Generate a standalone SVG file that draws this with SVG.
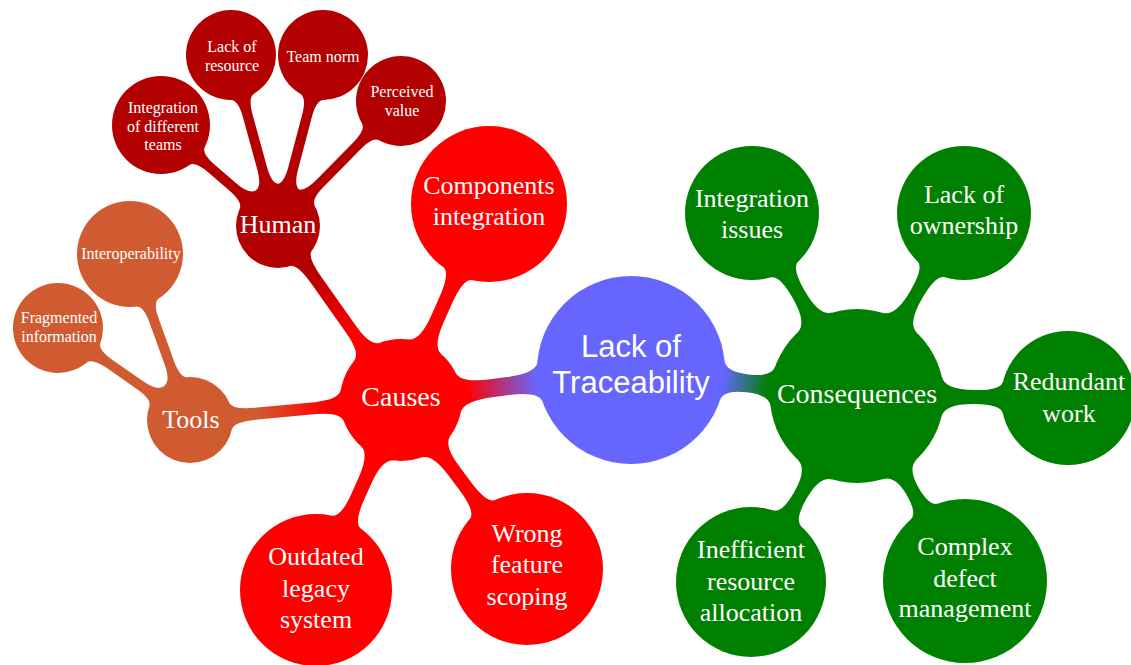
<svg xmlns="http://www.w3.org/2000/svg" width="1131" height="665" viewBox="0 0 1131 665">
<style>
.t{font-family:"Liberation Serif","Times New Roman",serif;fill:#fff;text-anchor:middle}
.s{font-family:"Liberation Sans",Arial,sans-serif;fill:#fff;text-anchor:middle;font-size:31px}
.l1{font-size:28px}
.l2{font-size:26px}
.l3{font-size:16px}
.red{fill:#FF0000}
.dred{fill:#B30000}
.org{fill:#D15B31}
.grn{fill:#008000}
.blu{fill:#6666FF}
</style>
<defs>
<linearGradient id="gC" gradientUnits="userSpaceOnUse" x1="95" y1="0" x2="165" y2="0"><stop offset="0" stop-color="#6666FF"/><stop offset="1" stop-color="#FF0000"/></linearGradient>
<linearGradient id="gQ" gradientUnits="userSpaceOnUse" x1="92" y1="0" x2="138" y2="0"><stop offset="0" stop-color="#6666FF"/><stop offset="1" stop-color="#008000"/></linearGradient>
<linearGradient id="gH" gradientUnits="userSpaceOnUse" x1="80" y1="0" x2="160" y2="0"><stop offset="0" stop-color="#FF0000"/><stop offset="1" stop-color="#B30000"/></linearGradient>
<linearGradient id="gT" gradientUnits="userSpaceOnUse" x1="75" y1="0" x2="145" y2="0"><stop offset="0" stop-color="#FF0000"/><stop offset="1" stop-color="#D15B31"/></linearGradient>
</defs>
<rect width="1131" height="665" fill="#fff"/>
<g id="connectors">
<path fill="url(#gC)" transform="translate(631,370) rotate(172.57)" d="M91.85,-20Q94.25,-9 124,-9L140.95,-9Q170.5,-9 174.32,-20L174.32,20Q170.5,9 140.95,9L124,9Q94.25,9 91.85,20Z"/>
<path fill="url(#gQ)" transform="translate(631,370) rotate(6.56)" d="M91.85,-20Q94.25,-9 117,-9L117.49,-9Q140.22,-9 142.82,-20L142.82,20Q140.22,9 117.49,9L117,9Q94.25,9 91.85,20Z"/>
<path fill="url(#gH)" transform="translate(401,400) rotate(-125.26)" d="M58.87,-16Q61.59,-6 86,-6L146.08,-6Q170.86,-6 173.14,-13L173.14,13Q170.86,6 146.08,6L86,6Q61.59,6 58.87,16Z"/>
<path class="red" transform="translate(401,400) rotate(-65.82)" d="M58.28,-18Q61.68,-7 89,-7L108.85,-7Q136.62,-7 138.51,-16L138.51,16Q136.62,7 108.85,7L89,7Q61.68,7 58.28,18Z"/>
<path class="red" transform="translate(401,400) rotate(53.29)" d="M58.28,-18Q61.68,-7 88,-7L107.8,-7Q134.56,-7 136.5,-16L136.5,16Q134.56,7 107.8,7L88,7Q61.68,7 58.28,18Z"/>
<path class="red" transform="translate(401,400) rotate(114.10)" d="M58.28,-18Q61.68,-7 88,-7L105.15,-7Q131.91,-7 133.85,-16L133.85,16Q131.91,7 105.15,7L88,7Q61.68,7 58.28,18Z"/>
<path fill="url(#gT)" transform="translate(401,400) rotate(174.59)" d="M58.87,-16Q61.59,-6 86,-6L143.95,-6Q168.74,-6 170.96,-13L170.96,13Q168.74,6 143.95,6L86,6Q61.59,6 58.87,16Z"/>
<path class="dred" transform="translate(278,226) rotate(-139.20)" d="M40.25,-12Q42.34,-5 60,-5L87.56,-5Q105.28,-5 107.05,-12L107.05,12Q105.28,5 87.56,5L60,5Q42.34,5 40.25,12Z"/>
<path class="dred" transform="translate(278,226) rotate(-105.37)" d="M40.25,-12Q42.34,-5 60,-5L114.34,-5Q132.03,-5 133.97,-12L133.97,12Q132.03,5 114.34,5L60,5Q42.34,5 40.25,12Z"/>
<path class="dred" transform="translate(278,226) rotate(-75.26)" d="M40.25,-12Q42.34,-5 60,-5L113.82,-5Q131.51,-5 133.45,-12L133.45,12Q131.51,5 113.82,5L60,5Q42.34,5 40.25,12Z"/>
<path class="dred" transform="translate(278,226) rotate(-45.46)" d="M40.25,-12Q42.34,-5 60,-5L112.37,-5Q130.06,-5 132,-12L132,12Q130.06,5 112.37,5L60,5Q42.34,5 40.25,12Z"/>
<path class="org" transform="translate(190,420) rotate(-109.87)" d="M41.29,-12Q43.32,-5 61,-5L105.51,-5Q123.26,-5 124.89,-12L124.89,12Q123.26,5 105.51,5L61,5Q43.32,5 41.29,12Z"/>
<path class="org" transform="translate(190,420) rotate(-145.12)" d="M41.29,-12Q43.32,-5 61,-5L97.9,-5Q115.59,-5 117.53,-12L117.53,12Q115.59,5 97.9,5L61,5Q43.32,5 41.29,12Z"/>
<path class="grn" transform="translate(857,396) rotate(-119.85)" d="M84.67,-20Q87.74,-7 117,-7L117.98,-7Q143.71,-7 145.92,-16L145.92,16Q143.71,7 117.98,7L117,7Q87.74,7 84.67,20Z"/>
<path class="grn" transform="translate(857,396) rotate(-59.69)" d="M84.67,-20Q87.74,-7 117,-7L118.99,-7Q144.72,-7 146.93,-16L146.93,16Q144.72,7 118.99,7L117,7Q87.74,7 84.67,20Z"/>
<path class="grn" transform="translate(857,396) rotate(0.54)" d="M84.67,-20Q87.74,-7 117,-7L118.01,-7Q143.74,-7 145.95,-16L145.95,16Q143.74,7 118.01,7L117,7Q87.74,7 84.67,20Z"/>
<path class="grn" transform="translate(857,396) rotate(119.68)" d="M84.67,-20Q87.74,-7 114,-7L114.08,-7Q138.84,-7 140.8,-16L140.8,16Q138.84,7 114.08,7L114,7Q87.74,7 84.67,20Z"/>
<path class="grn" transform="translate(857,396) rotate(59.73)" d="M84.67,-20Q87.74,-7 110,-7L110.22,-7Q132,-7 133.79,-16L133.79,16Q132,7 110.22,7L110,7Q87.74,7 84.67,20Z"/>
</g>
<g id="center"><circle class="blu" cx="631" cy="370" r="94"/><text class="s" x="631" y="357">Lack of</text><text class="s" x="631" y="393">Traceability</text></g>
<g id="causes"><circle class="red" cx="401" cy="400" r="61"/><text class="t l1" x="401" y="406">Causes</text></g>
<g id="consequences"><circle class="grn" cx="857" cy="396" r="87"/><text class="t l1" x="857" y="403">Consequences</text></g>
<g id="human"><circle class="dred" cx="278" cy="226" r="42"/><text class="t l2" x="278" y="233">Human</text></g>
<g id="tools"><circle class="org" cx="190" cy="420" r="43"/><text class="t l2" x="191" y="428">Tools</text></g>
<g id="components"><circle class="red" cx="489" cy="204" r="78"/><text class="t l2" x="489" y="194">Components</text><text class="t l2" x="489" y="225">integration</text></g>
<g id="wrong"><circle class="red" cx="527" cy="569" r="76"/><text class="t l2" x="527" y="542">Wrong</text><text class="t l2" x="527" y="573">feature</text><text class="t l2" x="527" y="605">scoping</text></g>
<g id="outdated"><circle class="red" cx="316" cy="590" r="76"/><text class="t l2" x="316" y="565">Outdated</text><text class="t l2" x="316" y="597">legacy</text><text class="t l2" x="316" y="628">system</text></g>
<g id="integration-teams"><circle class="dred" cx="161" cy="125" r="49"/><text class="t l3" x="163" y="113">Integration</text><text class="t l3" x="163" y="132">of different</text><text class="t l3" x="163" y="150">teams</text></g>
<g id="lack-resource"><circle class="dred" cx="231" cy="55" r="45"/><text class="t l3" x="232" y="52">Lack of</text><text class="t l3" x="232" y="71">resource</text></g>
<g id="team-norm"><circle class="dred" cx="323" cy="55" r="45"/><text class="t l3" x="323" y="62">Team norm</text></g>
<g id="perceived"><circle class="dred" cx="401" cy="101" r="45"/><text class="t l3" x="402" y="97">Perceived</text><text class="t l3" x="402" y="116">value</text></g>
<g id="interop"><circle class="org" cx="130" cy="254" r="53"/><text class="t l3" x="131" y="259">Interoperability</text></g>
<g id="fragmented"><circle class="org" cx="58" cy="328" r="45"/><text class="t l3" x="59" y="323">Fragmented</text><text class="t l3" x="59" y="342">information</text></g>
<g id="integration-issues"><circle class="grn" cx="752" cy="213" r="67"/><text class="t l2" x="752" y="207">Integration</text><text class="t l2" x="752" y="238">issues</text></g>
<g id="lack-ownership"><circle class="grn" cx="964" cy="213" r="67"/><text class="t l2" x="964" y="203">Lack of</text><text class="t l2" x="964" y="234">ownership</text></g>
<g id="redundant"><circle class="grn" cx="1068" cy="398" r="67"/><text class="t l2" x="1069" y="390">Redundant</text><text class="t l2" x="1069" y="422">work</text></g>
<g id="inefficient"><circle class="grn" cx="751" cy="582" r="75"/><text class="t l2" x="751" y="558">Inefficient</text><text class="t l2" x="751" y="590">resource</text><text class="t l2" x="751" y="621">allocation</text></g>
<g id="complex"><circle class="grn" cx="965" cy="581" r="82"/><text class="t l2" x="965" y="555">Complex</text><text class="t l2" x="965" y="587">defect</text><text class="t l2" x="965" y="617">management</text></g>
</svg>
